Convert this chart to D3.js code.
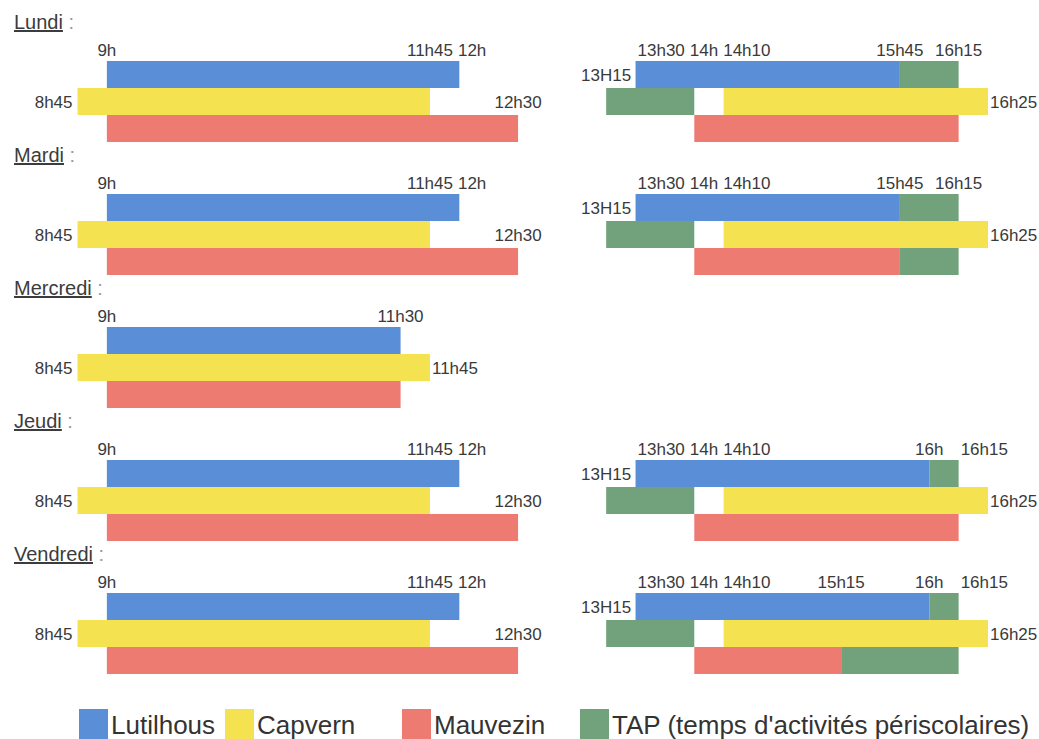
<!DOCTYPE html>
<html>
<head>
<meta charset="utf-8">
<script src="https://cdn.jsdelivr.net/npm/d3@7"></script>
<style>
  html, body { margin: 0; padding: 0; background: #fff; }
  svg { display: block; font-family: "Liberation Sans", Arial, sans-serif; }
</style>
</head>
<body>
<script>
// jours et écoles
const days = ["Lundi", "Mardi", "Mercredi", "Jeudi", "Vendredi"];
const schools = ["Lutilhous", "Capvern", "Mauvezin"];
const legendLabels = ["Lutilhous", "Capvern", "Mauvezin", "TAP (temps d'activités périscolaires)"];

// créneaux : [école, début, fin, type]
const lundi = [
    ["Lutilhous", "9h", "12h", "classe"],
    ["Lutilhous", "13h30", "15h45", "classe"],
    ["Lutilhous", "15h45", "16h15", "TAP"],
    ["Capvern", "8h45", "11h45", "classe"],
    ["Capvern", "13h15", "14h", "TAP"],
    ["Capvern", "14h10", "16h25", "classe"],
    ["Mauvezin", "9h", "12h30", "classe"],
    ["Mauvezin", "14h", "16h15", "classe"]
];
const mardi = [
    ["Lutilhous", "9h", "12h", "classe"],
    ["Lutilhous", "13h30", "15h45", "classe"],
    ["Lutilhous", "15h45", "16h15", "TAP"],
    ["Capvern", "8h45", "11h45", "classe"],
    ["Capvern", "13h15", "14h", "TAP"],
    ["Capvern", "14h10", "16h25", "classe"],
    ["Mauvezin", "9h", "12h30", "classe"],
    ["Mauvezin", "14h", "15h45", "classe"],
    ["Mauvezin", "15h45", "16h15", "TAP"]
];
const mercredi = [
    ["Lutilhous", "9h", "11h30", "classe"],
    ["Capvern", "8h45", "11h45", "classe"],
    ["Mauvezin", "9h", "11h30", "classe"]
];
const jeudi = [
    ["Lutilhous", "9h", "12h", "classe"],
    ["Lutilhous", "13h30", "16h", "classe"],
    ["Lutilhous", "16h", "16h15", "TAP"],
    ["Capvern", "8h45", "11h45", "classe"],
    ["Capvern", "13h15", "14h", "TAP"],
    ["Capvern", "14h10", "16h25", "classe"],
    ["Mauvezin", "9h", "12h30", "classe"],
    ["Mauvezin", "14h", "16h15", "classe"]
];
const vendredi = [
    ["Lutilhous", "9h", "12h", "classe"],
    ["Lutilhous", "13h30", "16h", "classe"],
    ["Lutilhous", "16h", "16h15", "TAP"],
    ["Capvern", "8h45", "11h45", "classe"],
    ["Capvern", "13h15", "14h", "TAP"],
    ["Capvern", "14h10", "16h25", "classe"],
    ["Mauvezin", "9h", "12h30", "classe"],
    ["Mauvezin", "14h", "15h15", "classe"],
    ["Mauvezin", "15h15", "16h15", "TAP"]
];

// étiquettes : [texte, ligne ("haut" = au-dessus), ancrage]
const matinLabels = [
    ["9h", "haut", "middle"], ["11h45", "haut", "middle"], ["12h", "haut", "middle"],
    ["8h45", "Capvern", "end"], ["12h30", "Capvern", "middle"]
];
const mercrediLabels = [
    ["9h", "haut", "middle"], ["11h30", "haut", "middle"],
    ["8h45", "Capvern", "end"], ["11h45", "Capvern", "start"]
];
const apremLabels = [
    ["13h30", "haut", "start"], ["14h", "haut", "middle"], ["14h10", "haut", "middle"],
    ["15h45", "haut", "middle"], ["16h15", "haut", "middle"],
    ["13H15", "Lutilhous", "middle"], ["16h25", "Capvern", "start"]
];
const apremJeudiLabels = [
    ["13h30", "haut", "start"], ["14h", "haut", "middle"], ["14h10", "haut", "middle"],
    ["16h", "haut", "middle"], ["16h15", "haut", "start"],
    ["13H15", "Lutilhous", "middle"], ["16h25", "Capvern", "start"]
];
const apremVendrediLabels = [
    ["13h30", "haut", "start"], ["14h", "haut", "middle"], ["14h10", "haut", "middle"],
    ["15h15", "haut", "middle"], ["16h", "haut", "middle"], ["16h15", "haut", "start"],
    ["13H15", "Lutilhous", "middle"], ["16h25", "Capvern", "start"]
];

const segmentsByDay = { Lundi: lundi, Mardi: mardi, Mercredi: mercredi, Jeudi: jeudi, Vendredi: vendredi };
const labelsByDay = {
    Lundi: matinLabels.concat(apremLabels),
    Mardi: matinLabels.concat(apremLabels),
    Mercredi: mercrediLabels,
    Jeudi: matinLabels.concat(apremJeudiLabels),
    Vendredi: matinLabels.concat(apremVendrediLabels)
};

var width = 1039, height = 739;
var colors = { Lutilhous: "#5a8fd8", Capvern: "#f5e251", Mauvezin: "#ee7b72", TAP: "#72a27b" };

function minutes(t) {
    var p = t.toLowerCase().split("h");
    return +p[0] * 60 + (p[1] ? +p[1] : 0);
}
// le tableau d'origine est dessiné sur une grille au quart d'heure
function slot(t) {
    return Math.ceil(minutes(t) / 15) * 15;
}

var x = d3.scaleLinear().domain([minutes("8h45"), minutes("16h30")]).range([77.5, 988]);
var yDay = d3.scalePoint().domain(days).range([61, 61 + 4 * 133]);
var yRow = d3.scaleBand().domain(schools).range([0, 81]);

var svg = d3.select("body").append("svg")
    .attr("width", width)
    .attr("height", height);

days.forEach(function (day) {
    var top = yDay(day);
    var g = svg.append("g").attr("transform", "translate(0," + top + ")");

    // titre du jour, souligné
    var title = g.append("text")
        .attr("x", 14)
        .attr("y", -32)
        .attr("font-size", 20)
        .attr("fill", "#3c3c3c");
    title.append("tspan").attr("text-decoration", "underline").text(day);
    title.append("tspan").attr("fill", "#999").text(" :");

    g.selectAll("rect.seg")
        .data(segmentsByDay[day])
        .join("rect")
        .attr("class", "seg")
        .attr("x", d => x(slot(d[1])))
        .attr("width", d => x(slot(d[2])) - x(slot(d[1])))
        .attr("y", d => yRow(d[0]))
        .attr("height", yRow.bandwidth())
        .attr("fill", d => d[3] === "TAP" ? colors.TAP : colors[d[0]]);

    var labels = g.selectAll("text.heure")
        .data(labelsByDay[day])
        .join("text")
        .attr("class", "heure")
        .attr("font-size", 17)
        .attr("fill", "#3a3a3a")
        .attr("text-anchor", d => d[2])
        .attr("x", function (d) {
            var px = x(slot(d[0]));
            if (d[2] === "start") return px + 2;
            if (d[2] === "end") return px - 5;
            return px;
        })
        .attr("y", d => d[1] === "haut" ? -5 : yRow(d[1]) + yRow.bandwidth() / 2)
        .attr("dy", d => d[1] === "haut" ? 0 : "0.36em")
        .text(d => d[0]);

    // les heures du haut ne se chevauchent pas : on décale vers la droite
    var prevEnd = -Infinity;
    labels.filter(d => d[1] === "haut").each(function () {
        var b = this.getBBox();
        if (b.x < prevEnd + 5) {
            var shift = prevEnd + 5 - b.x;
            d3.select(this).attr("x", +d3.select(this).attr("x") + shift);
            b.x += shift;
        }
        prevEnd = b.x + b.width;
    });
});

// légende
var legendX = [79, 225, 402, 580];
var legend = svg.append("g")
    .selectAll("g")
    .data(legendLabels)
    .join("g")
    .attr("transform", (d, i) => "translate(" + legendX[i] + ",709)");
legend.append("rect")
    .attr("width", 29)
    .attr("height", 32)
    .attr("fill", (d, i) => colors[i < 3 ? schools[i] : "TAP"]);
legend.append("text")
    .attr("x", 32)
    .attr("y", 25)
    .attr("font-size", 26)
    .attr("fill", "#333")
    .text(d => d);
</script>
</body>
</html>
